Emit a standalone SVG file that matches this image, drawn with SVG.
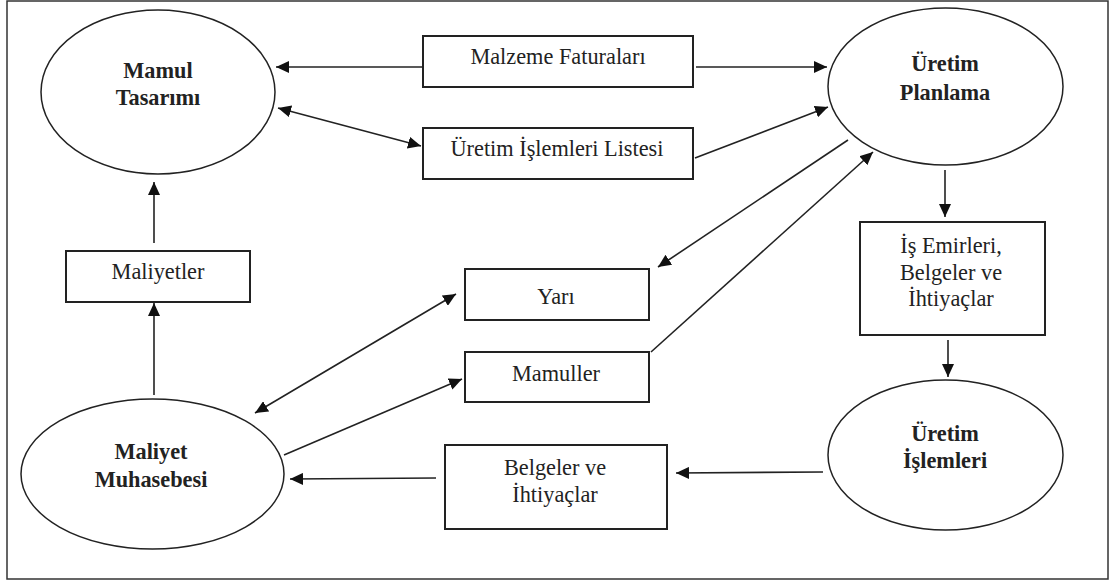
<svg xmlns="http://www.w3.org/2000/svg" width="1115" height="584" viewBox="0 0 1115 584">
  <style>
    .frame { fill: #fff; stroke: #333; stroke-width: 1.5; }
    .oval { fill: #fff; stroke: #222; stroke-width: 1.5; }
    .box { fill: #fff; stroke: #222; stroke-width: 2; }
    .edge { fill: none; stroke: #222; stroke-width: 1.6; }
  </style>
  <defs>
    <marker id="arrow" markerUnits="userSpaceOnUse" markerWidth="14" markerHeight="12" refX="13" refY="6" orient="auto-start-reverse">
      <path d="M0,0 L13,6 L0,12 z" fill="#111"/>
    </marker>
  </defs>

  <rect class="frame" x="7" y="1" width="1101" height="578"/>

  <g font-family="'Liberation Serif', 'DejaVu Serif', serif" font-size="22.3" fill="#222" text-anchor="middle">
    <!-- processes (ovals) -->
    <g id="mamul-tasarimi" font-weight="bold">
      <ellipse class="oval" cx="158" cy="92" rx="117" ry="82"/>
      <text x="158" y="78">Mamul</text>
      <text x="158" y="105">Tasarımı</text>
    </g>
    <g id="uretim-planlama" font-weight="bold">
      <ellipse class="oval" cx="945.5" cy="86.5" rx="117.5" ry="78.5"/>
      <text x="945" y="71">Üretim</text>
      <text x="945" y="100">Planlama</text>
    </g>
    <g id="uretim-islemleri" font-weight="bold">
      <ellipse class="oval" cx="945.5" cy="455" rx="117.5" ry="75"/>
      <text x="945" y="441">Üretim</text>
      <text x="945" y="468">İşlemleri</text>
    </g>
    <g id="maliyet-muhasebesi" font-weight="bold">
      <ellipse class="oval" cx="152.5" cy="474" rx="131.5" ry="75"/>
      <text x="151" y="459">Maliyet</text>
      <text x="151" y="487">Muhasebesi</text>
    </g>

    <!-- data flows (boxes) -->
    <g id="malzeme-faturalari">
      <rect class="box" x="423" y="36" width="270" height="51"/>
      <text x="558" y="64">Malzeme Faturaları</text>
    </g>
    <g id="islemler-listesi">
      <rect class="box" x="423" y="128" width="270" height="51"/>
      <text x="557" y="156">Üretim İşlemleri Listesi</text>
    </g>
    <g id="is-emirleri">
      <rect class="box" x="860" y="222" width="185" height="113"/>
      <text x="951" y="253">İş Emirleri,</text>
      <text x="951" y="280">Belgeler ve</text>
      <text x="951" y="306">İhtiyaçlar</text>
    </g>
    <g id="maliyetler">
      <rect class="box" x="66" y="251" width="184" height="51"/>
      <text x="158" y="279">Maliyetler</text>
    </g>
    <g id="yari">
      <rect class="box" x="465" y="269" width="184" height="51"/>
      <text x="556" y="304">Yarı</text>
    </g>
    <g id="mamuller">
      <rect class="box" x="465" y="352" width="184" height="50"/>
      <text x="556" y="381">Mamuller</text>
    </g>
    <g id="belgeler">
      <rect class="box" x="445" y="445" width="222" height="84"/>
      <text x="555" y="475">Belgeler ve</text>
      <text x="555" y="502">İhtiyaçlar</text>
    </g>
  </g>

  <!-- connectors -->
  <g id="connectors">
    <line class="edge" x1="423" y1="67" x2="276" y2="67" marker-end="url(#arrow)"/>
    <line class="edge" x1="696" y1="67" x2="827" y2="67" marker-end="url(#arrow)"/>
    <line class="edge" x1="278" y1="108" x2="421" y2="146" marker-start="url(#arrow)" marker-end="url(#arrow)"/>
    <line class="edge" x1="695" y1="158" x2="828" y2="107" marker-end="url(#arrow)"/>
    <line class="edge" x1="848" y1="140" x2="658" y2="267" marker-end="url(#arrow)"/>
    <line class="edge" x1="651" y1="352" x2="873" y2="152" marker-end="url(#arrow)"/>
    <line class="edge" x1="945" y1="170" x2="945" y2="217" marker-end="url(#arrow)"/>
    <line class="edge" x1="948" y1="340" x2="948" y2="377" marker-end="url(#arrow)"/>
    <line class="edge" x1="823" y1="472" x2="676" y2="473" marker-end="url(#arrow)"/>
    <line class="edge" x1="436" y1="478" x2="290" y2="479" marker-end="url(#arrow)"/>
    <line class="edge" x1="154" y1="395" x2="154" y2="303" marker-end="url(#arrow)"/>
    <line class="edge" x1="154" y1="243" x2="154" y2="182" marker-end="url(#arrow)"/>
    <line class="edge" x1="255" y1="413" x2="456" y2="294" marker-start="url(#arrow)" marker-end="url(#arrow)"/>
    <line class="edge" x1="284" y1="455" x2="462" y2="379" marker-end="url(#arrow)"/>
  </g>
</svg>
